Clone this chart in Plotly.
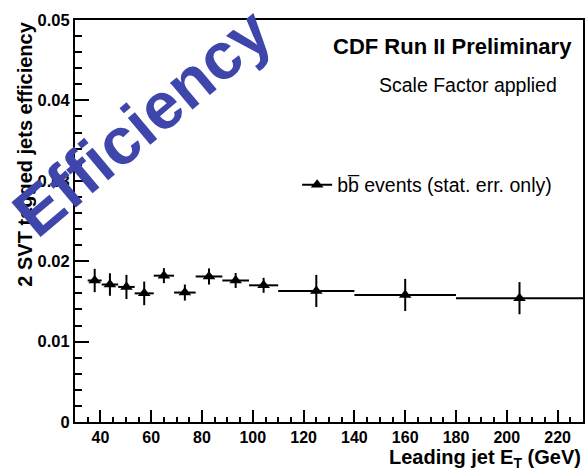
import plotly.graph_objects as go

# Data
et_center = [37.75, 43.75, 50.25, 57.25, 65, 73.25, 82.75, 93.25, 104.25, 125, 160, 205]
et_halfwidth = [2.75, 3.25, 3.25, 3.75, 4, 4.25, 5.25, 5.25, 5.75, 15, 20, 25]
efficiency = [0.0176, 0.0171, 0.0168, 0.0160, 0.0182, 0.0161, 0.0181, 0.0176, 0.0170, 0.0163, 0.0158, 0.0154]
stat_err = [0.00145, 0.0014, 0.0015, 0.00147, 0.00093, 0.0010, 0.0010, 0.00093, 0.00093, 0.0020, 0.0020, 0.0020]
legend_label = "bb\u0305 events (stat. err. only)"

FONT = "Liberation Sans, Arial, sans-serif"

fig = go.Figure()
fig.add_trace(go.Scatter(
    x=et_center, y=efficiency, mode="markers",
    marker=dict(symbol="triangle-up", size=11, color="black"),
    error_x=dict(type="data", array=et_halfwidth, width=0, thickness=2, color="black"),
    error_y=dict(type="data", array=stat_err, width=0, thickness=2, color="black"),
    showlegend=False,
))
fig.add_trace(go.Scatter(
    x=[None], y=[None], mode="lines+markers", name=legend_label,
    line=dict(color="black", width=2),
    marker=dict(symbol="triangle-up", size=11, color="black"),
))

fig.update_layout(
    width=587, height=474,
    margin=dict(l=75, r=2, t=20, b=52),
    paper_bgcolor="white", plot_bgcolor="white",
    font=dict(family=FONT, color="black"),
    showlegend=True,
    legend=dict(x=(298 - 75) / 510, y=(422 - 185) / 402, xanchor="left", yanchor="middle",
                bgcolor="rgba(0,0,0,0)", font=dict(size=19.5, family=FONT)),
    xaxis=dict(range=[30, 230], showgrid=False, zeroline=False,
               showline=True, linewidth=2, linecolor="black", mirror=True,
               ticks="inside", ticklen=12, tickwidth=1.5, tickcolor="black",
               dtick=20, tick0=0,
               minor=dict(ticks="inside", ticklen=5, dtick=5, tickcolor="black", tickwidth=1.5)),
    yaxis=dict(range=[0, 0.05], showgrid=False, zeroline=False,
               showline=True, linewidth=2, linecolor="black", mirror=True,
               ticks="inside", ticklen=14, tickwidth=1.5, tickcolor="black",
               dtick=0.01, tick0=0,
               minor=dict(ticks="inside", ticklen=7, dtick=0.002, tickcolor="black", tickwidth=1.5)),
)
fig.update_xaxes(tickfont=dict(family=FONT, size=16, weight="bold"))
fig.update_yaxes(tickfont=dict(family=FONT, size=16.5, weight="bold"))

fig.add_annotation(text="<b>Leading jet E<sub>T</sub> (GeV)</b>", xref="paper", yref="paper",
                   x=1.0, y=(422 - 458) / 402, xanchor="right", yanchor="middle",
                   showarrow=False, font=dict(size=20, family=FONT))
fig.add_annotation(text="<b>2 SVT tagged jets efficiency</b>", xref="paper", yref="paper",
                   x=(24 - 75) / 510, y=1.0, xanchor="center", yanchor="top", textangle=-90,
                   showarrow=False, font=dict(size=20, family=FONT))
fig.add_annotation(text="<b>CDF Run II Preliminary</b>", xref="paper", yref="paper",
                   x=(576 - 75) / 510, y=(422 - 47) / 402, xanchor="right", yanchor="middle",
                   showarrow=False, font=dict(size=22, family=FONT))
fig.add_annotation(text="Scale Factor applied", xref="paper", yref="paper",
                   x=(561 - 75) / 510, y=(422 - 85) / 402, xanchor="right", yanchor="middle",
                   showarrow=False, font=dict(size=19.5, family=FONT))
fig.add_annotation(text="<b>Efficiency</b>", xref="paper", yref="paper",
                   x=(142 - 75) / 510, y=(422 - 122) / 402, xanchor="center", yanchor="middle",
                   textangle=-40, showarrow=False, font=dict(size=66, family=FONT, color="#3f46ab"))

fig.write_html("out.html")
